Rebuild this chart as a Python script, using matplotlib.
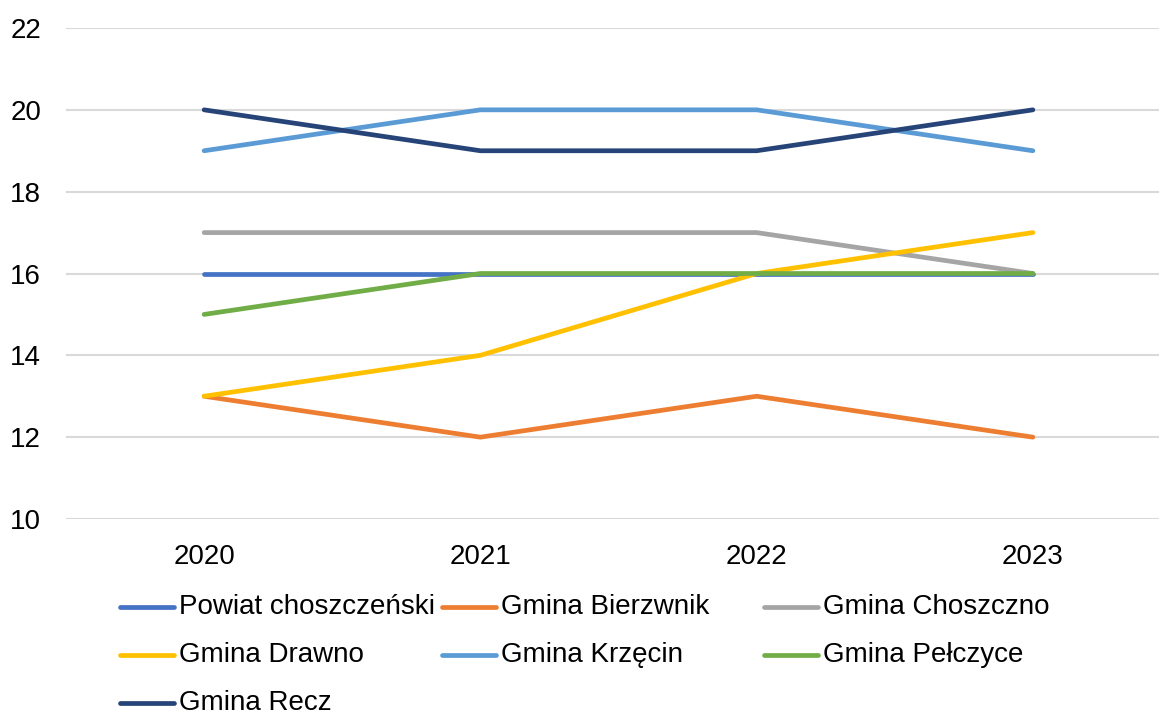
import matplotlib.pyplot as plt
from matplotlib.lines import Line2D

plt.rcParams['font.family'] = ['Liberation Sans', 'DejaVu Sans']

years = ["2020", "2021", "2022", "2023"]
names = ["Powiat choszczeński", "Gmina Bierzwnik", "Gmina Choszczno",
         "Gmina Drawno", "Gmina Krzęcin", "Gmina Pełczyce", "Gmina Recz"]
powiat = [16, 16, 16, 16]
bierzwnik = [13, 12, 13, 12]
choszczno = [17, 17, 17, 16]
drawno = [13, 14, 16, 17]
krzecin = [19, 20, 20, 19]
pelczyce = [15, 16, 16, 16]
recz = [20, 19, 19, 20]
series = [powiat, bierzwnik, choszczno, drawno, krzecin, pelczyce, recz]
colors = ["#4472C4", "#ED7D31", "#A5A5A5", "#FFC000", "#5B9BD5", "#70AD47", "#264478"]

W, H = 1159, 713
fig = plt.figure(figsize=(W / 100, H / 100), dpi=100)
ax = fig.add_axes([66 / W, 1 - 519 / H, (W - 66) / W, (519 - 28) / H])

x = range(len(years))
for vals, c in zip(series, colors):
    ax.plot(x, vals, color=c, lw=3.4, solid_capstyle='round', zorder=3)

ax.set_xlim(-0.5, 3 + (W - 1033) / 276)
ax.set_ylim(10, 22)
ax.set_yticks(range(10, 23, 2))
ax.set_xticks(list(x))
ax.set_xticklabels(years)
ax.grid(axis='y', color='#D9D9D9', lw=1.5)
ax.set_axisbelow(True)
for s in ax.spines.values():
    s.set_visible(False)
ax.tick_params(length=0, labelsize=20)
ax.tick_params(axis='y', pad=18)
ax.tick_params(axis='x', pad=18)

# legend, Excel-style uniform columns
for i, (name, c) in enumerate(zip(names, colors)):
    row, col = divmod(i, 3)
    lx = 120 + col * 322
    ly = 607 + row * 48
    fig.add_artist(Line2D([lx / W, (lx + 54) / W], [1 - ly / H, 1 - ly / H],
                          color=c, lw=3.4, solid_capstyle='round'))
    fig.text((lx + 59) / W, 1 - ly / H, name, fontsize=20, va='center', ha='left')

fig.savefig("out.png", dpi=100)
